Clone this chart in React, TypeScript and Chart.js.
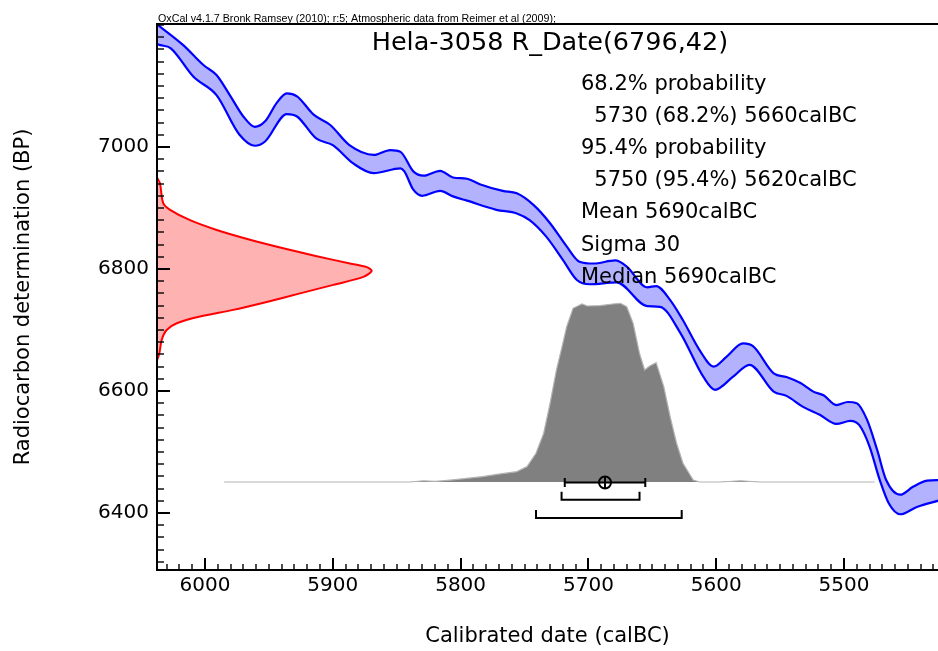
import React, { useEffect, useRef } from 'react';
import { Chart, registerables } from 'chart.js';

Chart.register(...registerables);

const FONT = 'DejaVu Sans';

// Axis tick labels
const xTickValues = [6000, 5900, 5800, 5700, 5600, 5500];
const yTickValues = [6400, 6600, 6800, 7000];

// Calibration curve (IntCal band) upper edge
const curveUpperCalBC = [6040, 6035, 6017, 6001, 5991, 5980, 5970, 5961, 5953, 5944, 5936, 5928, 5915, 5902, 5887, 5868, 5855, 5847, 5837, 5829, 5816, 5806, 5795, 5785, 5767, 5756, 5743, 5730, 5717, 5707, 5696, 5679, 5670, 5654, 5647, 5636, 5626, 5613, 5602, 5592, 5579, 5571, 5555, 5545, 5534, 5524, 5516, 5506, 5497, 5490, 5482, 5474, 5467, 5456, 5446, 5435, 5425];
const curveUpperBP = [7205, 7197, 7167, 7134, 7118, 7083, 7050, 7033, 7042, 7072, 7088, 7083, 7053, 7036, 7003, 6987, 6995, 6992, 6960, 6953, 6961, 6950, 6948, 6939, 6928, 6924, 6905, 6875, 6837, 6812, 6809, 6814, 6804, 6770, 6772, 6749, 6716, 6667, 6640, 6656, 6678, 6673, 6629, 6623, 6613, 6599, 6593, 6577, 6582, 6580, 6553, 6503, 6454, 6430, 6443, 6453, 6454];

// Calibration curve lower edge
const curveLowerCalBC = [6040, 6035, 6027, 6009, 5991, 5973, 5961, 5953, 5936, 5928, 5913, 5900, 5884, 5868, 5847, 5844, 5837, 5830, 5816, 5806, 5795, 5772, 5756, 5746, 5733, 5720, 5709, 5699, 5678, 5654, 5644, 5628, 5610, 5601, 5587, 5574, 5555, 5545, 5532, 5519, 5506, 5495, 5488, 5480, 5472, 5465, 5456, 5443, 5425];
const curveLowerBP = [7170, 7167, 7162, 7115, 7085, 7020, 7002, 7009, 7054, 7050, 7014, 7003, 6973, 6957, 6965, 6960, 6930, 6920, 6928, 6919, 6912, 6897, 6891, 6880, 6853, 6815, 6782, 6775, 6778, 6739, 6738, 6695, 6623, 6602, 6623, 6643, 6599, 6592, 6574, 6561, 6546, 6551, 6544, 6509, 6454, 6416, 6398, 6410, 6421];

// Radiocarbon date likelihood (red, on the BP axis)
const dateBP = [6950, 6940, 6908, 6897, 6880, 6864, 6848, 6834, 6821, 6809, 6803, 6797, 6787, 6774, 6760, 6746, 6733, 6722, 6711, 6700, 6684, 6662, 6650];
const dateDensity = [0, 0.014, 0.029, 0.061, 0.154, 0.278, 0.433, 0.588, 0.744, 0.899, 0.977, 1.0, 0.961, 0.821, 0.666, 0.511, 0.355, 0.2, 0.092, 0.045, 0.022, 0.011, 0];

// Calibrated probability distribution (grey, on the calBC axis)
const calCalBC = [5985, 5840, 5829, 5820, 5808, 5783, 5769, 5756, 5748, 5741, 5735, 5730, 5725, 5720, 5717, 5712, 5705, 5701, 5691, 5681, 5675, 5670, 5665, 5660, 5656, 5652, 5647, 5641, 5636, 5631, 5626, 5618, 5613, 5597, 5581, 5566, 5476];
const calProb = [0, 0, 0.007, 0.003, 0.011, 0.03, 0.045, 0.058, 0.086, 0.161, 0.273, 0.44, 0.627, 0.776, 0.869, 0.972, 0.996, 0.985, 0.987, 0.996, 1.0, 0.981, 0.888, 0.72, 0.627, 0.649, 0.668, 0.533, 0.365, 0.217, 0.105, 0.011, 0, 0, 0.007, 0, 0];

// Summary statistics (calBC)
const meanCalBC = 5687;
const sigmaCalBC = 31.5;
const range68 = [5721, 5660];
const range95 = [5741, 5627];

const noteText = 'OxCal v4.1.7 Bronk Ramsey (2010); r:5; Atmospheric data from Reimer et al (2009);';
const titleText = 'Hela-3058 R_Date(6796,42)';
const summaryLines = [
  '68.2% probability',
  '  5730 (68.2%) 5660calBC',
  '95.4% probability',
  '  5750 (95.4%) 5620calBC',
  'Mean 5690calBC',
  'Sigma 30',
  'Median 5690calBC',
];

const oxcalPlugin = {
  id: 'oxcalDecor',
  afterDatasetsDraw(chart: any) {
    const { ctx, scales } = chart;
    const xs = scales.x;
    const y0 = scales.y2.getPixelForValue(0) + 0.5;
    ctx.save();
    ctx.strokeStyle = '#000';
    ctx.lineWidth = 2;
    const xl = xs.getPixelForValue(meanCalBC + sigmaCalBC);
    const xr = xs.getPixelForValue(meanCalBC - sigmaCalBC);
    const xm = xs.getPixelForValue(meanCalBC);
    ctx.beginPath();
    ctx.moveTo(xl, y0); ctx.lineTo(xr, y0);
    ctx.moveTo(xl, y0 - 4.5); ctx.lineTo(xl, y0 + 4.5);
    ctx.moveTo(xr, y0 - 4.5); ctx.lineTo(xr, y0 + 4.5);
    ctx.moveTo(xm, y0 - 6); ctx.lineTo(xm, y0 + 6);
    ctx.stroke();
    ctx.beginPath();
    ctx.arc(xm, y0, 6, 0, Math.PI * 2);
    ctx.stroke();
    const bracket = (r: number[], dy: number) => {
      const a = xs.getPixelForValue(r[0]);
      const b = xs.getPixelForValue(r[1]);
      ctx.beginPath();
      ctx.moveTo(a, y0 + dy - 8);
      ctx.lineTo(a, y0 + dy);
      ctx.lineTo(b, y0 + dy);
      ctx.lineTo(b, y0 + dy - 8);
      ctx.stroke();
    };
    bracket(range68, 17.3);
    bracket(range95, 35.5);
    ctx.restore();
  },
  afterDraw(chart: any) {
    const { ctx, chartArea: ca, scales } = chart;
    const xs = scales.x;
    const ys = scales.y;
    ctx.save();
    ctx.strokeStyle = '#000';
    // frame: left axis, bottom axis, top border
    ctx.lineWidth = 2;
    ctx.beginPath();
    ctx.moveTo(ca.left, ca.top); ctx.lineTo(ca.right, ca.top);
    ctx.moveTo(ca.left, ca.top - 1); ctx.lineTo(ca.left, ca.bottom + 1);
    ctx.moveTo(ca.left - 1, ca.bottom); ctx.lineTo(ca.right, ca.bottom);
    ctx.stroke();
    // x ticks (inward)
    const xmin = Math.min(xs.min, xs.max);
    const xmax = Math.max(xs.min, xs.max);
    for (let v = Math.ceil(xmin / 10) * 10; v <= xmax; v += 10) {
      const px = Math.round(xs.getPixelForValue(v));
      const major = xTickValues.includes(v);
      ctx.lineWidth = major ? 2 : 1.4;
      ctx.beginPath();
      ctx.moveTo(px, ca.bottom);
      ctx.lineTo(px, ca.bottom - (major ? 12 : 6));
      ctx.stroke();
    }
    for (let v = Math.ceil(ys.min / 20) * 20; v <= ys.max; v += 20) {
      const py = Math.round(ys.getPixelForValue(v));
      const major = yTickValues.includes(v);
      ctx.lineWidth = major ? 2 : 1.4;
      ctx.beginPath();
      ctx.moveTo(ca.left, py);
      ctx.lineTo(ca.left + (major ? 13 : 7), py);
      ctx.stroke();
    }
    // texts
    ctx.fillStyle = '#000';
    ctx.textBaseline = 'alphabetic';
    ctx.textAlign = 'left';
    ctx.font = '10.7px "Liberation Sans"';
    ctx.fillText(noteText, 158, 21.5);
    ctx.textAlign = 'center';
    ctx.font = `25.5px "${FONT}"`;
    ctx.fillText(titleText, 550, 49.5);
    ctx.textAlign = 'left';
    ctx.font = `21px "${FONT}"`;
    summaryLines.forEach((line, i) => {
      ctx.fillText(line, 581, 89.5 + i * 32.2);
    });
    ctx.restore();
  },
};

export default function App() {
  const ref = useRef<HTMLCanvasElement>(null);
  useEffect(() => {
    const canvas = ref.current;
    if (!canvas) return;
    const chart = new Chart(canvas, {
      type: 'line',
      data: {
        datasets: [
          {
            label: 'curve upper',
            data: curveUpperCalBC.map((x, i) => ({ x, y: curveUpperBP[i] })),
            borderColor: '#0000ff',
            borderWidth: 2.2,
            backgroundColor: 'rgba(0,0,255,0.3)',
            fill: '+1',
            pointRadius: 0,
            cubicInterpolationMode: 'monotone',
          },
          {
            label: 'curve lower',
            data: curveLowerCalBC.map((x, i) => ({ x, y: curveLowerBP[i] })),
            borderColor: '#0000ff',
            borderWidth: 2.2,
            fill: false,
            pointRadius: 0,
            cubicInterpolationMode: 'monotone',
          },
          {
            label: 'R_Date',
            data: dateBP.map((y, i) => ({ x: dateDensity[i], y })),
            xAxisID: 'x2',
            yAxisID: 'y',
            indexAxis: 'y',
            borderColor: '#ff0000',
            borderWidth: 2,
            backgroundColor: 'rgba(255,0,0,0.3)',
            fill: 'origin',
            pointRadius: 0,
            tension: 0.3,
          },
          {
            label: 'calibrated',
            data: calCalBC.map((x, i) => ({ x, y: calProb[i] })),
            xAxisID: 'x',
            yAxisID: 'y2',
            borderColor: '#b4b4b4',
            borderWidth: 1.2,
            backgroundColor: '#808080',
            fill: 'origin',
            pointRadius: 0,
            tension: 0,
          },
        ] as any,
      },
      options: {
        animation: false,
        responsive: false,
        events: [],
        layout: { padding: { top: 24, left: 0, right: 0, bottom: 0 } },
        plugins: {
          legend: { display: false },
          tooltip: { enabled: false },
          filler: { drawTime: 'beforeDatasetsDraw', propagate: false },
        } as any,
        scales: {
          x: {
            type: 'linear',
            position: 'bottom',
            min: 5426.45,
            max: 6037.56,
            reverse: true,
            grid: { display: false, drawTicks: false },
            border: { display: false },
            afterBuildTicks: (s: any) => { s.ticks = xTickValues.map((v) => ({ value: v })); },
            afterFit: (s: any) => { s.height = 81; },
            ticks: {
              callback: (v: any) => String(v),
              color: '#000',
              font: { family: FONT, size: 20 },
              padding: 4,
              maxRotation: 0,
              autoSkip: false,
            },
            title: {
              display: true,
              text: 'Calibrated date (calBC)',
              color: '#000',
              font: { family: FONT, size: 21 },
              padding: { top: 0, bottom: 1.4 },
            },
          },
          y: {
            type: 'linear',
            position: 'left',
            min: 6306.6,
            max: 7201.6,
            grid: { display: false, drawTicks: false },
            border: { display: false },
            afterBuildTicks: (s: any) => { s.ticks = yTickValues.map((v) => ({ value: v })); },
            afterFit: (s: any) => { s.width = 157; },
            ticks: {
              callback: (v: any) => String(v),
              color: '#000',
              font: { family: FONT, size: 20 },
              padding: 8,
              autoSkip: false,
            },
            title: {
              display: true,
              text: 'Radiocarbon determination (BP)',
              color: '#000',
              font: { family: FONT, size: 21 },
              padding: { top: 11, bottom: 0 },
            },
          },
          x2: { type: 'linear', position: 'top', display: false, min: 0, max: 3.6376 },
          y2: { type: 'linear', position: 'right', display: false, min: -0.4924, max: 2.563 },
        } as any,
      },
      plugins: [oxcalPlugin as any],
    } as any);
    return () => chart.destroy();
  }, []);
  return (
    <div style={{ position: 'fixed', left: 0, top: 0, width: 938, height: 651, background: '#fff', overflow: 'hidden' }}>
      <canvas ref={ref} width={938} height={651} style={{ display: 'block', width: 938, height: 651 }} />
    </div>
  );
}
